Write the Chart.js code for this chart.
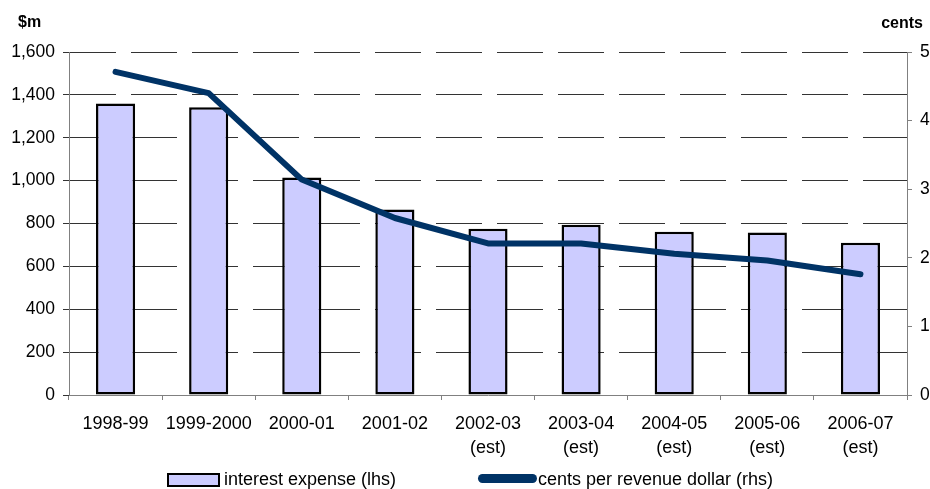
<!DOCTYPE html>
<html>
<head>
<meta charset="utf-8">
<script src="https://cdn.jsdelivr.net/npm/chart.js@4.4.1/dist/chart.umd.min.js"></script>
<style>
  html, body { margin: 0; padding: 0; background: #fff; }
  #wrap { position: relative; width: 930px; height: 489px; font-family: "Liberation Sans", Arial, sans-serif; }
  #legend { position: absolute; top: 468px; left: 0; width: 930px; height: 22px; font-size: 18px; color: #000; }
  .item { position: absolute; top: 0; line-height: 22px; white-space: nowrap; }
  .swatch { position: absolute; }
</style>
</head>
<body>
<div id="wrap">
  <canvas id="chart" width="930" height="489"></canvas>
  <div id="legend"></div>
</div>
<script>
// categories (financial years)
const categories = [
  '1998-99', '1999-2000', '2000-01', '2001-02',
  ['2002-03', '(est)'], ['2003-04', '(est)'], ['2004-05', '(est)'],
  ['2005-06', '(est)'], ['2006-07', '(est)']
];
// interest expense, $m (left axis)
const interestExpense = [1360, 1342, 1015, 865, 775, 794, 761, 758, 710];
// cents per revenue dollar (right axis)
const centsPerDollar = [4.71, 4.40, 3.14, 2.58, 2.21, 2.21, 2.06, 1.96, 1.76];

const seriesNames = ['interest expense (lhs)', 'cents per revenue dollar (rhs)'];
const barFill = '#CCCCFF';
const lineColor = '#003366';
const axisGrey = '#808080';

// axis titles sit above the plot, like the original
const axisTitles = {
  id: 'axisTitles',
  afterDraw(chart) {
    const ctx = chart.ctx;
    ctx.save();
    ctx.fillStyle = '#000';
    ctx.font = 'bold 16px "Liberation Sans", Arial, sans-serif';
    ctx.textBaseline = 'alphabetic';
    ctx.textAlign = 'left';
    ctx.fillText('$m', 18, 27);
    ctx.textAlign = 'right';
    ctx.fillText('cents', 923, 28);
    ctx.restore();
  }
};

const ctx = document.getElementById('chart').getContext('2d');
new Chart(ctx, {
  type: 'bar',
  data: {
    labels: categories,
    datasets: [
      {
        type: 'line',
        label: seriesNames[1],
        data: centsPerDollar,
        yAxisID: 'y1',
        borderColor: lineColor,
        backgroundColor: lineColor,
        borderWidth: 6,
        pointRadius: 0,
        tension: 0,
        borderCapStyle: 'round',
        borderJoinStyle: 'round',
        order: 1
      },
      {
        label: seriesNames[0],
        data: interestExpense,
        yAxisID: 'y',
        backgroundColor: barFill,
        borderColor: '#000',
        borderWidth: 2.5,
        borderSkipped: false,
        barPercentage: 0.42,
        categoryPercentage: 1,
        order: 2
      }
    ]
  },
  options: {
    responsive: false,
    animation: false,
    layout: { padding: { top: 52, left: 0, right: 0, bottom: 0 } },
    font: { family: '"Liberation Sans", Arial, sans-serif', size: 17 },
    plugins: {
      legend: { display: false },
      tooltip: { enabled: false }
    },
    scales: {
      x: {
        offset: true,
        grid: {
          offset: true,
          drawOnChartArea: false,
          drawTicks: true,
          tickLength: 5,
          color: axisGrey
        },
        border: { color: axisGrey, width: 1 },
        ticks: {
          color: '#000',
          autoSkip: false,
          maxRotation: 0,
          padding: 12,
          font: { size: 18, lineHeight: 1.33 }
        },
        afterFit(scale) { scale.height = 94; }
      },
      y: {
        position: 'left',
        min: 0,
        max: 1600,
        ticks: {
          stepSize: 200,
          color: '#000',
          padding: 8,
          font: { size: 17.5 },
          callback: (v) => v.toLocaleString('en-US')
        },
        grid: {
          color: '#333',
          lineWidth: 1,
          tickLength: 6,
          tickColor: '#333',
          tickBorderDash: []
        },
        border: { color: axisGrey, width: 1, dash: [46, 15] },
        afterFit(scale) { scale.width = 69; }
      },
      y1: {
        position: 'right',
        min: 0,
        max: 5,
        ticks: {
          stepSize: 1,
          color: '#000',
          padding: 8,
          font: { size: 17.5 }
        },
        grid: {
          drawOnChartArea: false,
          tickLength: 5,
          color: axisGrey
        },
        border: { color: axisGrey, width: 1 },
        afterFit(scale) { scale.width = 23; }
      }
    }
  },
  plugins: [axisTitles]
});

// legend built as HTML so the item positions match the original
const legend = document.getElementById('legend');
legend.innerHTML =
  '<div class="swatch" style="left:167px;top:5px;width:49px;height:10px;background:' + barFill + ';border:2px solid #000;"></div>' +
  '<div class="item" style="left:224px;">' + seriesNames[0] + '</div>' +
  '<div class="swatch" style="left:478px;top:6px;width:59px;height:9px;border-radius:5px;background:' + lineColor + ';"></div>' +
  '<div class="item" style="left:538px;">' + seriesNames[1] + '</div>';
</script>
</body>
</html>
